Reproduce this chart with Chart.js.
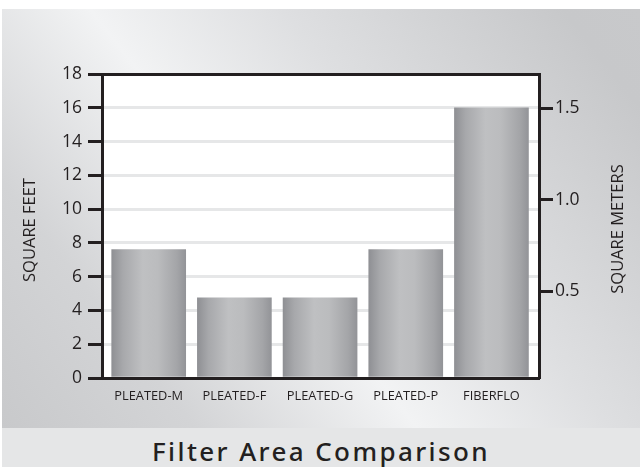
<!DOCTYPE html>
<html>
<head>
<meta charset="utf-8">
<script src="https://cdn.jsdelivr.net/npm/chart.js@4.4.1/dist/chart.umd.min.js"></script>
<style>
  body { margin: 0; background: #fff; }
  #wrap { position: relative; width: 640px; height: 467px; overflow: hidden; }
  #panel { position: absolute; left: 2px; top: 9px; width: 638px; height: 419px;
    background: linear-gradient(52deg, #c8c9cb 0%, #d3d4d6 20%, #f2f3f4 43%, #dedfe1 63%, #c7c8ca 92%, #c8c9cb 100%); }
  #band { position: absolute; left: 2px; top: 428px; width: 638px; height: 39px; background: #e5e6e7; }
  #title { position: absolute; left: 2px; top: 432px; width: 638px; height: 35px; line-height: 39px;
    text-align: center; font-family: 'Noto Sans', sans-serif; font-weight: 500; font-size: 26px;
    letter-spacing: 2.4px; color: #231f20; }
  #box { position: absolute; left: 0; top: 0; width: 640px; height: 428px; }
</style>
</head>
<body>
<div id="wrap">
  <div id="panel"></div>
  <div id="band"></div>
  <div id="title">Filter Area Comparison</div>
  <div id="box"><canvas id="chart"></canvas></div>
</div>
<script>
// values
var categories = ['PLEATED-M', 'PLEATED-F', 'PLEATED-G', 'PLEATED-P', 'FIBERFLO'];
var squareFeet = [7.6, 4.75, 4.75, 7.6, 16];
var meterTicks = [0.5, 1.0, 1.5];
var leftTitle = 'SQUARE FEET';
var rightTitle = 'SQUARE METERS';

var ink = '#231f20';
var barWidth = 74;

function barGradient(c) {
    var x = c.chart.scales.x;
    if (!x || !x._length || c.dataIndex === undefined) return '#b0b1b3';
    var cx = x.getPixelForValue(c.dataIndex);
    var g = c.chart.ctx.createLinearGradient(cx - barWidth / 2, 0, cx + barWidth / 2, 0);
    g.addColorStop(0, '#8f9094');
    g.addColorStop(0.15, '#a7a8ab');
    g.addColorStop(0.42, '#bfc0c2');
    g.addColorStop(0.62, '#bbbcbe');
    g.addColorStop(0.88, '#a4a5a8');
    g.addColorStop(1, '#939498');
    return g;
}

const plotBg = {
    id: 'plotBg',
    beforeDraw(chart) {
        const a = chart.chartArea;
        const ctx = chart.ctx;
        ctx.save();
        ctx.fillStyle = '#ffffff';
        ctx.fillRect(a.left, a.top, a.right - a.left, a.bottom - a.top);
        ctx.restore();
    }
};

const sideTitles = {
    id: 'sideTitles',
    afterDraw(chart) {
        const ctx = chart.ctx;
        ctx.save();
        ctx.fillStyle = ink;
        ctx.font = "16.5px 'Open Sans'";
        ctx.textAlign = 'center';
        ctx.textBaseline = 'middle';
        [[30, 230, leftTitle], [618, 229, rightTitle]].forEach(function (t) {
            ctx.save();
            ctx.translate(t[0], t[1]);
            ctx.rotate(-Math.PI / 2);
            ctx.fillText(t[2], 0, 0);
            ctx.restore();
        });
        ctx.restore();
    }
};

const ctx = document.getElementById('chart');
var chart = new Chart(ctx, {
    type: 'bar',
    data: {
        datasets: [{
            data: squareFeet.map((v, i) => ({ x: i, y: v })),
            backgroundColor: barGradient,
            borderWidth: 0,
            barThickness: barWidth
        }]
    },
    options: {
        responsive: true,
        maintainAspectRatio: false,
        animation: false,
        events: [],
        layout: { padding: { top: 74, left: 0, right: 0, bottom: 0 } },
        plugins: { legend: { display: false }, tooltip: { enabled: false } },
        scales: {
            x: {
                type: 'linear',
                offset: false,
                min: -0.545,
                max: 4.555,
                afterBuildTicks: s => { s.ticks = categories.map((c, i) => ({ value: i })); },
                afterFit: s => { s.height = 50; },
                grid: { display: false, drawTicks: false, offset: false },
                border: { display: true, color: ink, width: 3, z: 1 },
                ticks: {
                    callback: v => categories[v],
                    color: ink,
                    padding: 11,
                    maxRotation: 0,
                    autoSkip: false,
                    font: { family: "'Open Sans'", size: 12.8 }
                }
            },
            y: {
                position: 'left',
                min: 0,
                max: 18,
                afterFit: s => { s.width = 102; },
                grid: {
                    color: c => (c.tick.value === 0 || c.tick.value === 18) ? ink : '#e6e7e8',
                    lineWidth: 3,
                    tickColor: ink,
                    tickLength: 14,
                    tickWidth: 3
                },
                border: { display: true, color: ink, width: 3, z: 1 },
                ticks: {
                    stepSize: 2,
                    color: ink,
                    padding: 6,
                    font: { family: "'Open Sans'", size: 17.5 }
                }
            },
            y2: {
                position: 'right',
                min: 0.025,
                max: 1.686,
                afterBuildTicks: s => { s.ticks = meterTicks.map(v => ({ value: v })); },
                afterFit: s => { s.width = 101; },
                grid: {
                    drawOnChartArea: false,
                    color: ink,
                    tickColor: ink,
                    tickLength: 14,
                    tickWidth: 3
                },
                border: { display: true, color: ink, width: 3, z: 1 },
                ticks: {
                    callback: v => v.toFixed(1),
                    color: ink,
                    padding: 2,
                    font: { family: "'Open Sans'", size: 17.5 }
                }
            }
        }
    },
    plugins: [plotBg, sideTitles]
});
</script>
</body>
</html>
